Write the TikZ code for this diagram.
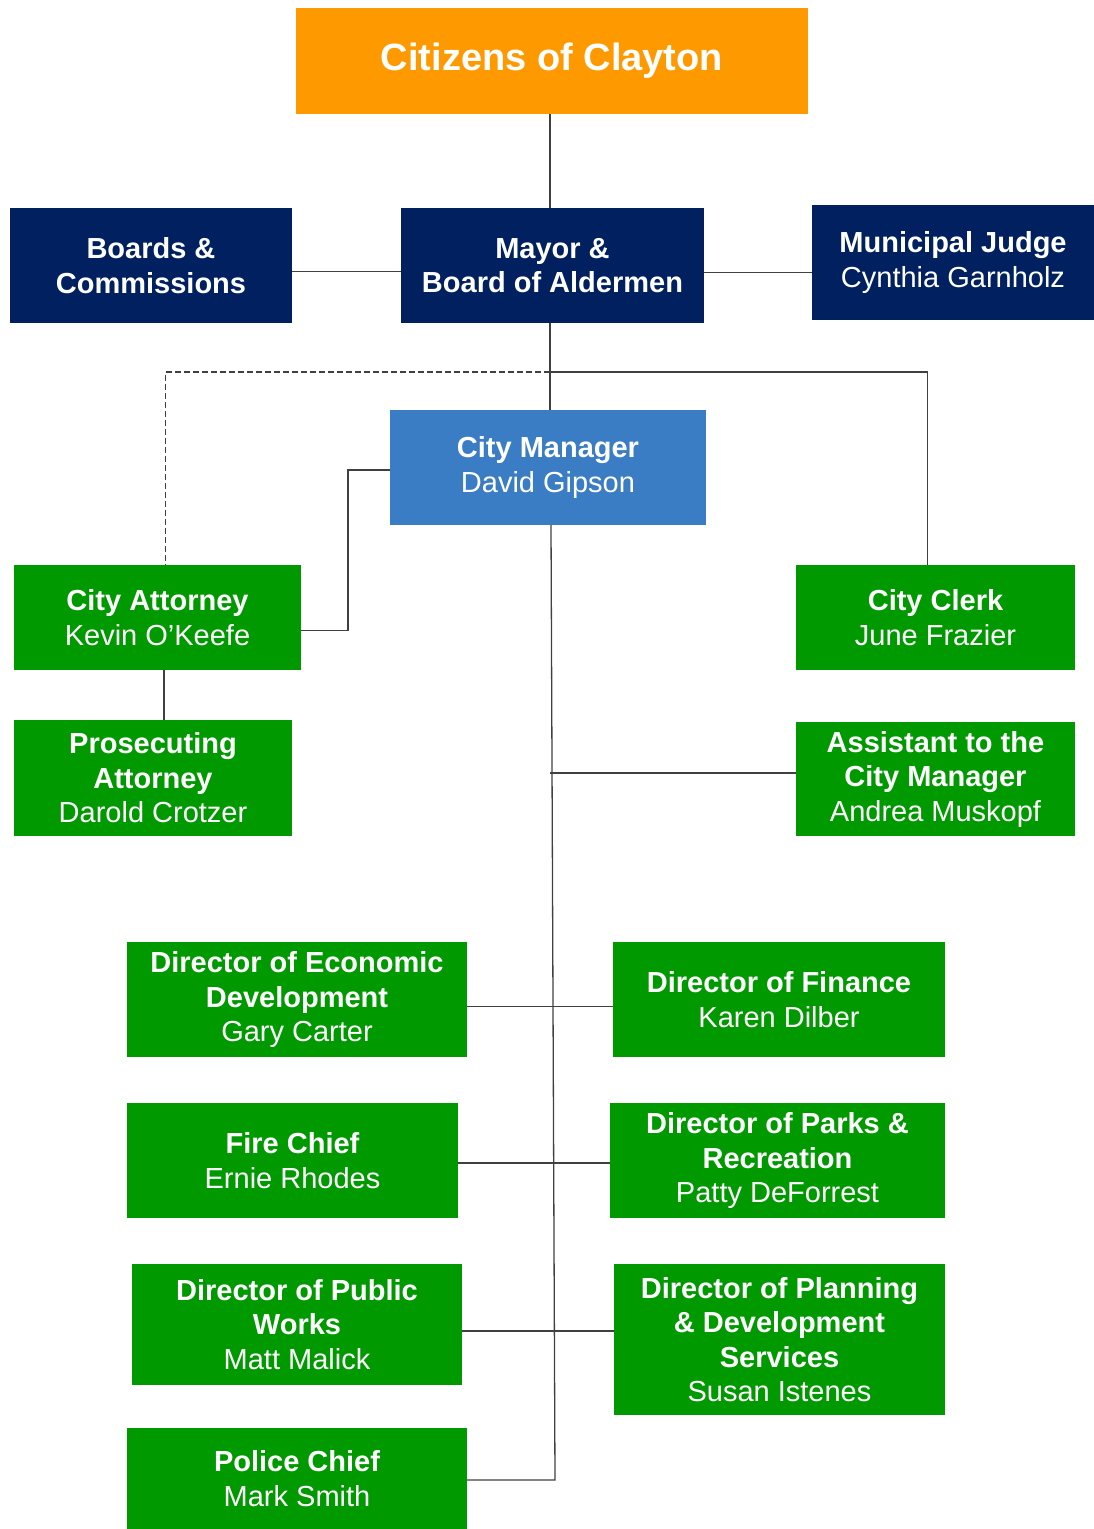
\documentclass[tikz,border=0pt]{standalone}
\usepackage{fontspec}
\setmainfont{Liberation Sans}
\usetikzlibrary{positioning}
\definecolor{claytonorange}{RGB}{255,153,0}
\definecolor{claytonnavy}{RGB}{0,32,96}
\definecolor{claytonblue}{RGB}{58,125,196}
\definecolor{claytongreen}{RGB}{0,153,0}
\newcommand{\who}[1]{\\\mdseries #1}
\tikzset{
x=1pt, y=-1pt, % pixel grid of the chart, y downwards
box/.style={rectangle, inner sep=0pt, align=center, text=white,
  font=\fontsize{29}{34.5}\selectfont\bfseries}, % sets the properties of every box
orange box/.style={box, fill=claytonorange, font=\fontsize{38}{45}\selectfont\bfseries},
navy box/.style={box, fill=claytonnavy},
blue box/.style={box, fill=claytonblue},
green box/.style={box, fill=claytongreen},
link/.style={draw=black!75, line width=1.3pt}, % the connecting lines
}
\begin{document}
\begin{tikzpicture}
\useasboundingbox (0,0) rectangle (1094,1529);
\node[orange box, minimum width=512, minimum height=106] (citizens) at (552,61) {Citizens of Clayton};
\node[navy box, minimum width=282, minimum height=115] (boards) at (151,265.5) {Boards \&\\Commissions};
\node[navy box, minimum width=303, minimum height=115] (mayor) at (552.5,265.5) {Mayor \&\\Board of Aldermen};
\node[navy box, minimum width=282, minimum height=115] (judge) at (953,262.5) {Municipal Judge\who{Cynthia Garnholz}};
\node[blue box, minimum width=316, minimum height=115] (manager) at (548,467.5) {City Manager\who{David Gipson}};
\node[green box, minimum width=287, minimum height=105] (attorney) at (157.5,617.5) {City Attorney\who{Kevin O’Keefe}};
\node[green box, minimum width=279, minimum height=105] (clerk) at (935.5,617.5) {City Clerk\who{June Frazier}};
\node[green box, minimum width=278, minimum height=116] (prosecutor) at (153,778) {Prosecuting\\Attorney\who{Darold Crotzer}};
\node[green box, minimum width=279, minimum height=114] (assistant) at (935.5,779) {Assistant to the\\City Manager\who{Andrea Muskopf}};
\node[green box, minimum width=340, minimum height=115] (econ) at (297,999.5) {Director of Economic\\Development\who{Gary Carter}};
\node[green box, minimum width=332, minimum height=115] (finance) at (779,999.5) {Director of Finance\who{Karen Dilber}};
\node[green box, minimum width=331, minimum height=115] (fire) at (292.5,1160.5) {Fire Chief\who{Ernie Rhodes}};
\node[green box, minimum width=335, minimum height=115] (parks) at (777.5,1160.5) {Director of Parks \&\\Recreation\who{Patty DeForrest}};
\node[green box, minimum width=330, minimum height=121] (works) at (297,1324.5) {Director of Public\\Works\who{Matt Malick}};
\node[green box, minimum width=331, minimum height=151] (planning) at (779.5,1339.5) {Director of Planning\\\& Development\\Services\who{Susan Istenes}};
\node[green box, minimum width=340, minimum height=101] (police) at (297,1478.5) {Police Chief\who{Mark Smith}};
% council level
\coordinate (split) at (550,372);
\coordinate (mgrbend) at (348,470);
\coordinate (trunkend) at (555,1480);
\draw[link] (citizens.south -| split) -- (mayor.north -| split);
\draw[link] ([yshift=-6pt]boards.east) -- ([yshift=-6pt]mayor.west);
\draw[link] ([yshift=-7pt]mayor.east) -- ([yshift=-7pt]mayor.east -| judge.west);
\draw[link] (mayor.south -| split) -- (manager.north -| split);
\draw[link] (split) -| ([xshift=-8pt]clerk.north);
\draw[link, dash pattern=on 6pt off 3pt] (split) -| ([xshift=8pt]attorney.north);
% city manager and staff
\draw[link] (manager.west |- mgrbend) -- (mgrbend) |- ([yshift=-13pt]attorney.east);
\draw[link] ([xshift=6.5pt]attorney.south) -- ([xshift=6.5pt]attorney.south |- prosecutor.north);
\draw[link] ([xshift=3pt]manager.south) -- (trunkend) -- (trunkend -| police.east);
\draw[link] ([yshift=6pt]assistant.west) -- ([yshift=6pt]assistant.west -| split);
\draw[link] ([yshift=-7pt]econ.east) -- ([yshift=-7pt]finance.west);
\draw[link] ([yshift=-2.5pt]fire.east) -- ([yshift=-2.5pt]fire.east -| parks.west);
\draw[link] ([yshift=-6.5pt]works.east) -- ([yshift=-6.5pt]works.east -| planning.west);
\end{tikzpicture}
\end{document}
